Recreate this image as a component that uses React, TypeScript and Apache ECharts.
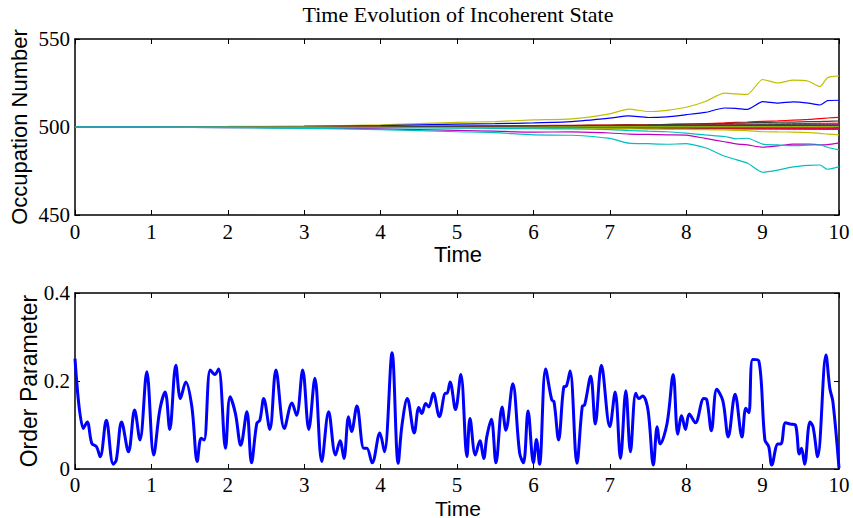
import React, { useEffect, useRef } from "react";
import * as echarts from "echarts";

// ---------- Top panel: occupation numbers ----------
const divTime = [0, 1, 2, 3, 4, 5, 5.5, 6, 6.5, 7, 7.25, 7.5, 7.75, 8, 8.25, 8.5, 8.65, 8.8, 9, 9.2, 9.4, 9.6, 9.75, 9.85, 10];
const yellowHigh = [500, 500.1, 500.3, 500.6, 501.2, 502.6, 503.1, 504, 504.6, 507.5, 510.2, 508.8, 509.5, 511.2, 514.5, 519.3, 518.8, 518.5, 527, 525, 526.6, 526, 523, 528, 529];
const blueHigh = [500, 500.1, 500.2, 500.4, 500.8, 501.6, 501.9, 502.3, 503, 505, 506.3, 505.4, 505.8, 507, 508.3, 510.8, 510.6, 510, 514.4, 513.6, 514.3, 513.6, 512.5, 515, 515.2];
const redHigh = [500, 500, 500.1, 500.2, 500.3, 500.5, 500.6, 500.8, 501, 501.1, 501.3, 501.2, 501.5, 501.7, 502, 502.3, 502.6, 502.8, 503.2, 503.5, 503.9, 504.3, 504.8, 505.1, 505.5];
const grayHigh = [500, 500, 500.1, 500.1, 500.2, 500.4, 500.5, 500.6, 500.8, 501, 501.1, 501.2, 501.4, 501.6, 501.8, 502, 502.2, 502.3, 502.6, 502.7, 502.8, 503, 503.1, 503.2, 503.4];
const yellowLow = [500, 500, 499.9, 499.9, 499.8, 499.6, 499.5, 499.4, 499.2, 499, 498.9, 498.8, 498.7, 498.6, 498.5, 498.3, 498.1, 497.9, 497.3, 497.2, 497.1, 496.8, 496.4, 496, 495.5];
const magentaLow = [500, 499.9, 499.7, 499.4, 498.9, 498.1, 497.6, 497.1, 497.2, 496.6, 496, 495.8, 495.5, 495.4, 493.5, 491.6, 490.4, 489.8, 488.5, 489.3, 490.3, 490.3, 489.9, 490, 491];
const cyanMid = [500, 500, 499.9, 499.8, 499.6, 499.4, 499.2, 499, 498.9, 498.5, 498, 497.6, 497.3, 496.5, 495.5, 494.6, 493.3, 493.6, 490.3, 489.8, 489.4, 489.7, 489.8, 488.5, 487];
const cyanLow = [500, 499.9, 499.6, 499.2, 498.5, 497.3, 496.8, 495.5, 495.3, 493.5, 490.8, 490.5, 490.2, 490.5, 488.2, 483.5, 481.5, 479.5, 474.3, 475.5, 477.3, 478.2, 478.4, 476, 477.5];

const bundleTime = [0, 2, 4, 6, 8, 10];
const bundleValues = [
  [500, 500.05, 500.2, 500.4, 500.7, 501],
  [500, 500.1, 500.3, 500.7, 501.3, 502.2],
  [500, 499.95, 499.8, 499.6, 499.2, 498.8],
  [500, 500.05, 500.2, 500.4, 500.8, 501.3],
  [500, 499.95, 499.9, 499.7, 499.5, 499.2],
  [500, 500.05, 500.1, 500.3, 500.6, 500.9],
  [500, 499.95, 499.8, 499.5, 499.0, 498.6],
  [500, 500, 500.1, 500.2, 500.4, 500.5],
  [500, 500, 499.9, 499.9, 499.7, 499.6],
  [500, 500, 500, 500.1, 500.2, 500.3],
  [500, 500.05, 500.2, 500.5, 501, 501.7],
  [500, 499.95, 499.85, 499.7, 499.4, 499.1],
  [500, 500.02, 500.1, 500.1, 500.2, 500.2],
  [500, 500.05, 500.15, 500.3, 500.5, 500.6],
  [500, 499.98, 499.9, 499.8, 499.7, 499.5],
  [500, 500, 500.05, 500.1, 500.1, 500.2],
];
const bundleColors = ["#008000", "#FF0000", "#00BFBF", "#BF00BF", "#404040", "#0000FF", "#008000", "#FF0000", "#008000", "#0000FF", "#404040", "#FF0000", "#00BFBF", "#008000", "#BF00BF", "#BFBF00"];

// ---------- Bottom panel: order parameter ----------
const orderTime = [0, 0.11, 0.16, 0.22, 0.28, 0.33, 0.41, 0.5, 0.54, 0.61, 0.7, 0.78, 0.85, 0.94, 1.03, 1.11, 1.18, 1.24, 1.32, 1.38, 1.45, 1.53, 1.6, 1.65, 1.69, 1.77, 1.83, 1.88, 1.97, 2.03, 2.1, 2.17, 2.25, 2.31, 2.38, 2.42, 2.47, 2.55, 2.63, 2.74, 2.84, 2.9, 2.98, 3.06, 3.14, 3.23, 3.32, 3.41, 3.47, 3.52, 3.58, 3.62, 3.69, 3.78, 3.82, 3.89, 3.99, 4.05, 4.15, 4.23, 4.28, 4.35, 4.44, 4.5, 4.54, 4.59, 4.63, 4.69, 4.77, 4.85, 4.87, 4.91, 4.98, 5.05, 5.13, 5.17, 5.24, 5.3, 5.35, 5.39, 5.45, 5.51, 5.59, 5.64, 5.73, 5.82, 5.87, 5.93, 6.0, 6.04, 6.08, 6.16, 6.24, 6.27, 6.33, 6.4, 6.43, 6.48, 6.57, 6.64, 6.67, 6.75, 6.81, 6.89, 7.0, 7.07, 7.14, 7.21, 7.27, 7.34, 7.38, 7.43, 7.5, 7.57, 7.62, 7.66, 7.75, 7.83, 7.89, 7.94, 7.99, 8.04, 8.12, 8.23, 8.27, 8.33, 8.4, 8.48, 8.55, 8.64, 8.73, 8.78, 8.82, 8.87, 8.95, 9.03, 9.08, 9.12, 9.2, 9.24, 9.3, 9.37, 9.43, 9.48, 9.51, 9.55, 9.62, 9.66, 9.72, 9.83, 9.88, 9.92, 10.0];
const orderValue = [0.251, 0.092, 0.107, 0.058, 0.051, 0.028, 0.111, 0.011, 0.02, 0.107, 0.039, 0.134, 0.066, 0.221, 0.032, 0.134, 0.175, 0.09, 0.236, 0.16, 0.198, 0.141, 0.017, 0.07, 0.066, 0.225, 0.215, 0.227, 0.047, 0.164, 0.126, 0.054, 0.13, 0.014, 0.104, 0.111, 0.16, 0.09, 0.225, 0.092, 0.15, 0.122, 0.225, 0.09, 0.206, 0.017, 0.13, 0.032, 0.064, 0.024, 0.119, 0.085, 0.143, 0.047, 0.047, 0.014, 0.082, 0.039, 0.264, 0.013, 0.1, 0.16, 0.082, 0.14, 0.126, 0.149, 0.141, 0.172, 0.119, 0.172, 0.172, 0.198, 0.135, 0.215, 0.028, 0.115, 0.032, 0.064, 0.024, 0.073, 0.113, 0.014, 0.141, 0.088, 0.194, 0.036, 0.014, 0.132, 0.014, 0.067, 0.011, 0.227, 0.157, 0.153, 0.066, 0.187, 0.188, 0.223, 0.013, 0.143, 0.145, 0.211, 0.102, 0.236, 0.096, 0.175, 0.024, 0.178, 0.039, 0.172, 0.16, 0.166, 0.134, 0.009, 0.096, 0.057, 0.104, 0.215, 0.079, 0.121, 0.09, 0.125, 0.105, 0.16, 0.157, 0.087, 0.181, 0.155, 0.073, 0.17, 0.073, 0.138, 0.128, 0.249, 0.246, 0.066, 0.051, 0.009, 0.057, 0.057, 0.105, 0.102, 0.1, 0.034, 0.047, 0.011, 0.107, 0.096, 0.028, 0.259, 0.183, 0.153, 0.002];

const timeTicks = { min: 0, max: 10, interval: 1 };
const occTicks = { min: 450, max: 550, interval: 50 };
const orderTicks = { min: 0, max: 0.4, interval: 0.2 };

const SERIF = "Liberation Serif";
const SANS = "Liberation Sans";

function zip(xs: number[], ys: number[]) {
  return xs.map((x, i) => [x, ys[i]]);
}

export default function App() {
  const ref = useRef<HTMLDivElement>(null);
  useEffect(() => {
    if (!ref.current) return;
    const chart = echarts.init(ref.current, undefined, { renderer: "svg" });

    const axisLine = { show: true, onZero: false, lineStyle: { color: "#000", width: 1.5 } };
    const tick = { show: true, inside: true, length: 5, lineStyle: { color: "#000", width: 1 } };
    const label = { show: true, fontFamily: SERIF, fontSize: 21, color: "#000" };

    const xAxes: any[] = [];
    const yAxes: any[] = [];
    [0, 1].forEach((g) => {
      xAxes.push({ type: "value", gridIndex: g, position: "bottom", ...timeTicks, axisLine, axisTick: tick, axisLabel: { ...label, margin: g === 0 ? 6 : 5, showMinLabel: true, showMaxLabel: true }, splitLine: { show: false } });
      xAxes.push({ type: "value", gridIndex: g, position: "top", ...timeTicks, axisLine, axisTick: tick, axisLabel: { show: false }, splitLine: { show: false } });
      const yt = g === 0 ? occTicks : orderTicks;
      yAxes.push({ type: "value", gridIndex: g, position: "left", ...yt, axisLine, axisTick: tick, axisLabel: { ...label, margin: 5, showMinLabel: true, showMaxLabel: true }, splitLine: { show: false } });
      yAxes.push({ type: "value", gridIndex: g, position: "right", ...yt, axisLine, axisTick: tick, axisLabel: { show: false }, splitLine: { show: false } });
    });

    const series: any[] = [];
    bundleValues.forEach((vals, i) => {
      series.push({ type: "line", xAxisIndex: 0, yAxisIndex: 0, data: zip(bundleTime, vals), showSymbol: false, smooth: 0.3, lineStyle: { width: 1, color: bundleColors[i] }, z: 2 });
    });
    const divLines: [number[], string][] = [
      [yellowHigh, "#BFBF00"],
      [blueHigh, "#0000FF"],
      [redHigh, "#FF0000"],
      [grayHigh, "#404040"],
      [yellowLow, "#BFBF00"],
      [magentaLow, "#BF00BF"],
      [cyanMid, "#00BFBF"],
      [cyanLow, "#00BFBF"],
    ];
    divLines.forEach(([vals, color]) => {
      series.push({ type: "line", xAxisIndex: 0, yAxisIndex: 0, data: zip(divTime, vals), showSymbol: false, smooth: 0.2, lineStyle: { width: 1.2, color }, z: 3 });
    });
    series.push({ type: "line", xAxisIndex: 2, yAxisIndex: 2, data: zip(orderTime, orderValue), showSymbol: false, smooth: 0.35, lineStyle: { width: 3, color: "#0000FF" }, z: 3 });

    chart.setOption({
      animation: false,
      backgroundColor: "#fff",
      grid: [
        { left: 75, right: 14, top: 39, height: 176 },
        { left: 75, right: 14, top: 293, height: 176 },
      ],
      xAxis: xAxes,
      yAxis: yAxes,
      series,
      graphic: [
        { type: "text", x: 458, y: 14, style: { text: "Time Evolution of Incoherent State", font: `22px '${SERIF}'`, fill: "#000", textAlign: "center", textVerticalAlign: "middle" } },
        { type: "text", x: 458, y: 254, style: { text: "Time", font: `22px '${SANS}'`, fill: "#000", textAlign: "center", textVerticalAlign: "middle" } },
        { type: "text", x: 458, y: 508, style: { text: "Time", font: `21px '${SANS}'`, fill: "#000", textAlign: "center", textVerticalAlign: "middle" } },
        { type: "text", x: 19, y: 127, rotation: Math.PI / 2, style: { text: "Occupation Number", font: `22px '${SANS}'`, fill: "#000", textAlign: "center", textVerticalAlign: "middle" } },
        { type: "text", x: 29, y: 381, rotation: Math.PI / 2, style: { text: "Order Parameter", font: `23px '${SANS}'`, fill: "#000", textAlign: "center", textVerticalAlign: "middle" } },
      ],
    });
    return () => chart.dispose();
  }, []);
  return <div ref={ref} style={{ position: "fixed", left: 0, top: 0, width: 853, height: 518 }} />;
}
